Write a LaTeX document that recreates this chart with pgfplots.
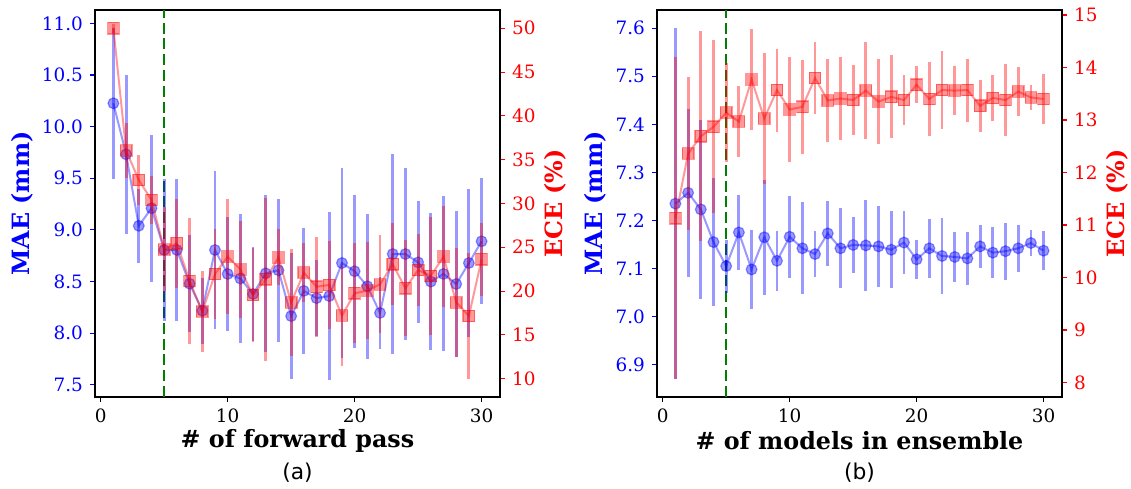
\documentclass[border=0pt]{standalone}
\usepackage{pgfplots}
\pgfplotsset{compat=1.18}
\usepackage{pgfplotstable}
\usepackage{fontspec}
\setmainfont{DejaVu Serif}
\newfontfamily\capfont{DejaVu Sans}

\definecolor{mgreen}{RGB}{0,128,0}

\pgfplotstableread{
k mae maeerr ece eceerr
1 10.226 0.73 50.00 0.5
2 9.732 0.77 36.04 3.1
3 9.040 0.36 32.68 2.8
4 9.210 0.71 30.40 2.7
5 8.806 0.69 24.77 4.8
6 8.806 0.69 25.46 5.1
7 8.480 0.47 21.15 7.17
8 8.218 0.32 17.65 4.6
9 8.806 0.76 21.95 5.1
10 8.574 0.55 23.93 6.56
11 8.530 0.62 22.48 5.5
12 8.380 0.455 19.56 5.4
13 8.580 0.76 21.35 9.3
14 8.610 0.69 23.85 3.2
15 8.166 0.61 18.68 6.1
16 8.410 0.61 22.10 3.37
17 8.340 0.37 20.50 5.7
18 8.360 0.81 20.70 5.0
19 8.680 0.92 17.20 5.8
20 8.600 0.74 19.75 5.7
21 8.455 0.70 20.05 5.55
22 8.197 0.345 20.77 5.6
23 8.767 0.97 23.06 4.7
24 8.767 0.83 20.32 5.5
25 8.686 0.59 22.41 4.15
26 8.500 0.66 21.73 6.7
27 8.574 0.75 23.93 5.8
28 8.477 0.71 18.72 6.2
29 8.680 0.72 17.16 7.2
30 8.890 0.61 23.63 4.2
}\tableA

\pgfplotstableread{
k mae maeerr ece eceerr
1 7.235 0.365 11.13 3.07
2 7.2575 0.175 12.36 1.45
3 7.223 0.186 12.69 2.0
4 7.155 0.134 12.87 1.65
5 7.105 0.055 13.14 0.94
6 7.175 0.078 12.97 0.67
7 7.098 0.083 13.77 0.96
8 7.165 0.12 13.03 1.25
9 7.116 0.063 13.57 0.79
10 7.166 0.085 13.20 1.0
11 7.142 0.096 13.25 0.9
12 7.130 0.047 13.80 0.68
13 7.173 0.068 13.37 0.79
14 7.142 0.083 13.41 0.79
15 7.149 0.059 13.38 0.66
16 7.148 0.094 13.56 0.92
17 7.146 0.085 13.35 0.81
18 7.139 0.080 13.44 0.79
19 7.154 0.066 13.38 0.47
20 7.119 0.040 13.67 0.35
21 7.142 0.061 13.40 0.71
22 7.126 0.079 13.57 0.74
23 7.124 0.052 13.56 0.47
24 7.121 0.055 13.57 0.6
25 7.146 0.045 13.27 0.5
26 7.133 0.053 13.42 0.44
27 7.136 0.059 13.38 0.68
28 7.142 0.049 13.54 0.46
29 7.153 0.028 13.43 0.24
30 7.137 0.040 13.40 0.47
}\tableB

\pgfplotsset{
  base/.style={
    scale only axis, width=202.5pt, height=193.5pt,
    xmin=-0.45, xmax=31.45,
    tick align=outside, major tick length=2.5pt,
    axis line style={line width=0.55pt},
    every tick/.style={line width=0.55pt},
    tick label style={font=\fontsize{9.2}{11}\selectfont},
    /pgf/number format/assume math mode=true,
    label style={font=\fontsize{11.9}{14}\selectfont\bfseries},
    clip=false,
  },
  leftax/.style={base,
    xtick={0,10,20,30}, xtick pos=bottom, ytick pos=left,
    y tick style={blue}, yticklabel style={blue, /pgf/number format/.cd, fixed, fixed zerofill, precision=1},
    x tick style={black},
    ylabel style={blue, at={(axis description cs:#1,0.5)}, anchor=center},
    xlabel style={at={(axis description cs:0.5,-0.113)}, anchor=center},
  },
  rightax/.style={base,
    axis y line*=right, axis x line=none, ytick pos=right,
    y tick style={red}, yticklabel style={red},
    ylabel style={red, at={(axis description cs:1.136,0.5)}, anchor=center},
  },
  bluser/.style={blue, line width=1pt, draw opacity=0.4,
    mark=*, mark size=2.7pt, mark options={fill=blue, fill opacity=0.4, draw opacity=0.4, line width=0.6pt},
    error bars/.cd, y dir=both, y explicit, error mark=none,
    error bar style={line width=1.4pt, draw=blue, draw opacity=0.4}},
  redser/.style={red, line width=1pt, draw opacity=0.4,
    mark=square*, mark size=2.9pt, mark options={fill=red, fill opacity=0.4, draw opacity=0.4, line width=0.6pt},
    error bars/.cd, y dir=both, y explicit, error mark=none,
    error bar style={line width=1.4pt, draw=red, draw opacity=0.4}},
  vline/.style={mgreen, line width=1.1pt, dash pattern=on 5.5pt off 2.4pt, forget plot},
}

\begin{document}
\begin{tikzpicture}
% ---------- panel (a) ----------
\begin{axis}[leftax=-0.18, at={(47.5pt,45.5pt)}, anchor=south west,
  ymin=7.383, ymax=11.129, ytick={7.5,8,8.5,9,9.5,10,10.5,11},
  xlabel={\# of forward pass}, ylabel={MAE (mm)}]
  \addplot[vline] coordinates {(5,7.383) (5,11.129)};
  \addplot[bluser] table[x=k, y=mae, y error=maeerr] {\tableA};
  \node[font=\capfont\fontsize{10.9}{13}\selectfont] at (axis description cs:0.5,-0.196) {(a)};
\end{axis}
\begin{axis}[rightax, at={(47.5pt,45.5pt)}, anchor=south west,
  ymin=7.91, ymax=52.09, ytick={10,15,20,25,30,35,40,45,50},
  ylabel={ECE (\%)}]
  \addplot[redser] table[x=k, y=ece, y error=eceerr] {\tableA};
\end{axis}
% ---------- panel (b) ----------
\begin{axis}[leftax=-0.153, at={(328.5pt,45.5pt)}, anchor=south west,
  ymin=6.8325, ymax=7.638, ytick={6.9,7.0,7.1,7.2,7.3,7.4,7.5,7.6},
  xlabel={\# of models in ensemble}, ylabel={MAE (mm)}]
  \addplot[vline] coordinates {(5,6.8325) (5,7.638)};
  \addplot[bluser] table[x=k, y=mae, y error=maeerr] {\tableB};
  \node[font=\capfont\fontsize{10.9}{13}\selectfont] at (axis description cs:0.5,-0.196) {(b)};
\end{axis}
\begin{axis}[rightax, at={(328.5pt,45.5pt)}, anchor=south west,
  ymin=7.725, ymax=15.095, ytick={8,9,10,11,12,13,14,15},
  ylabel={ECE (\%)}]
  \addplot[redser] table[x=k, y=ece, y error=eceerr] {\tableB};
\end{axis}
\pgfresetboundingbox
\path (0,0) rectangle (565.5pt,244pt);
\end{tikzpicture}
\end{document}
